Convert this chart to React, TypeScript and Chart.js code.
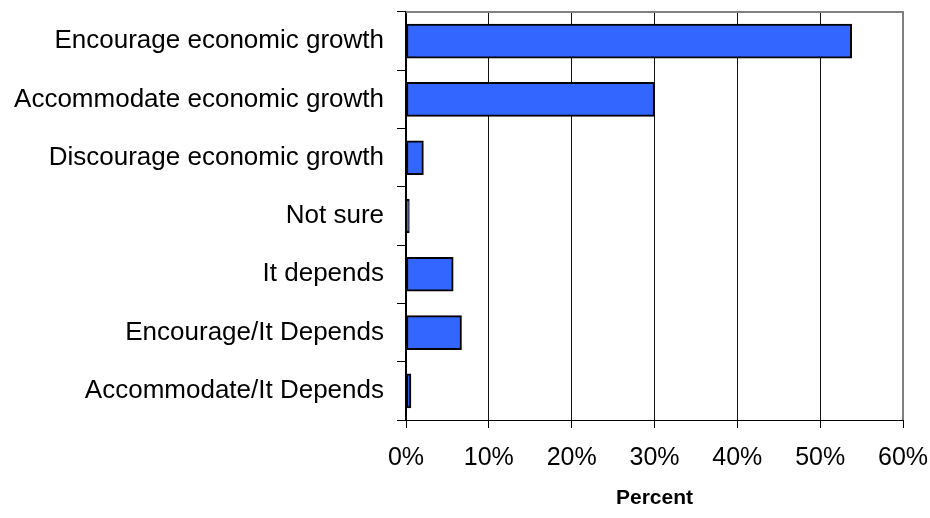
import React, { useEffect, useRef } from "react";
import { Chart, registerables } from "chart.js";

Chart.register(...registerables);

const categories = [
  "Encourage economic growth",
  "Accommodate economic growth",
  "Discourage economic growth",
  "Not sure",
  "It depends",
  "Encourage/It Depends",
  "Accommodate/It Depends",
];
const values = [53.8, 30.0, 2.1, 0.4, 5.7, 6.7, 0.6];
const xTicks = [0, 10, 20, 30, 40, 50, 60];
const xTitle = "Percent";

const FONT = "'Liberation Sans', Arial, sans-serif";

const borderPlugin = {
  id: "grayBorder",
  afterDraw(chart: any) {
    const { ctx, chartArea } = chart;
    ctx.save();
    ctx.strokeStyle = "#808080";
    ctx.lineWidth = 2;
    ctx.beginPath();
    ctx.moveTo(chartArea.left, chartArea.top);
    ctx.lineTo(chartArea.right, chartArea.top);
    ctx.lineTo(chartArea.right, chartArea.bottom);
    ctx.stroke();
    ctx.restore();
  },
};

export default function App() {
  const ref = useRef<HTMLCanvasElement>(null);
  useEffect(() => {
    document.body.style.margin = "0";
    const chart = new Chart(ref.current!, {
      type: "bar",
      data: {
        labels: categories,
        datasets: [
          {
            data: values,
            backgroundColor: "#3366FF",
            borderColor: "#000000",
            borderWidth: 2,
            borderSkipped: false,
            barThickness: 34,
          },
        ],
      },
      options: {
        indexAxis: "y",
        animation: false,
        responsive: false,
        maintainAspectRatio: false,
        layout: { padding: { top: 12, right: 27, left: 0, bottom: 0 } },
        plugins: { legend: { display: false }, tooltip: { enabled: false } },
        scales: {
          x: {
            min: 0,
            max: 60,
            afterBuildTicks: (s: any) => {
              s.ticks = xTicks.map((v) => ({ value: v }));
            },
            afterFit: (s: any) => {
              s.height = 98;
              s.paddingLeft = 0;
              s.paddingRight = 0;
            },
            ticks: {
              callback: (v: any) => v + "%",
              color: "#000",
              font: { family: FONT, size: 25 },
              padding: 15,
              maxRotation: 0,
            },
            grid: {
              color: (c: any) => (c.tick && c.tick.value === 60 ? "rgba(0,0,0,0)" : "#111"),
              lineWidth: 1,
              tickLength: 8,
              tickColor: "#000",
            },
            border: { color: "#000", width: 1 },
            title: {
              display: true,
              text: xTitle,
              color: "#000",
              font: { family: FONT, size: 21, weight: "bold" },
              padding: { top: 0, bottom: 7 },
            },
          },
          y: {
            afterFit: (s: any) => {
              s.width = 406;
              s.paddingTop = 0;
              s.paddingBottom = 0;
            },
            ticks: {
              color: "#000",
              font: { family: FONT, size: 26 },
              padding: 13,
            },
            grid: {
              offset: true,
              drawOnChartArea: false,
              tickLength: 9,
              tickColor: "#000",
            },
            border: { color: "#000", width: 2 },
          },
        },
      },
      plugins: [borderPlugin],
    });
    return () => chart.destroy();
  }, []);
  return (
    <div style={{ position: "absolute", left: 0, top: 0, width: 930, height: 518 }}>
      <canvas ref={ref} width={930} height={518} />
    </div>
  );
}
